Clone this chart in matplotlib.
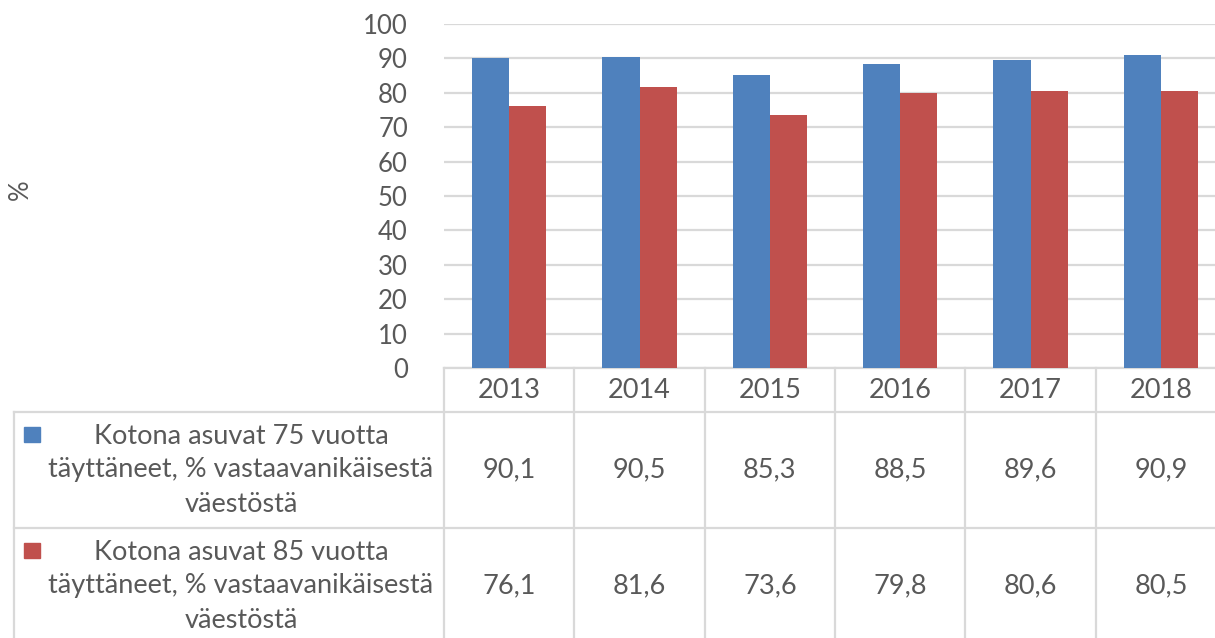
import matplotlib
matplotlib.use("Agg")
from matplotlib import pyplot as plt

years = ['2013', '2014', '2015', '2016', '2017', '2018']
home_75 = [90.1, 90.5, 85.3, 88.5, 89.6, 90.9]
home_85 = [76.1, 81.6, 73.6, 79.8, 80.6, 80.5]
series_names = [
    'Kotona asuvat 75 vuotta\ntäyttäneet, % vastaavanikäisestä\nväestöstä',
    'Kotona asuvat 85 vuotta\ntäyttäneet, % vastaavanikäisestä\nväestöstä',
]
colors = ['#4F81BD', '#C0504D']
yticks = list(range(0, 101, 10))

plt.rcParams['font.family'] = ['Lato', 'DejaVu Sans']
txt = '#595959'
grid = '#D9D9D9'
fs = 18.5
fs_tab = 19.5

W, H = 1215, 638
fig = plt.figure(figsize=(W / 100, H / 100), dpi=100)

# plot area in pixels
x0, x1 = 444, 1226
y_top, y_bot = 24, 368
ax = fig.add_axes([x0 / W, 1 - y_bot / H, (x1 - x0) / W, (y_bot - y_top) / H])

n = len(years)
bw = 0.284
xs = list(range(n))
ax.bar([x - bw / 2 for x in xs], home_75, bw, color=colors[0], zorder=3)
ax.bar([x + bw / 2 for x in xs], home_85, bw, color=colors[1], zorder=3)
ax.set_xlim(-0.5, n - 0.5)
ax.set_ylim(0, 100)
ax.set_yticks(yticks)
ax.set_yticklabels([str(t) for t in yticks], fontsize=fs, color=txt)
ax.tick_params(axis='y', length=0, pad=26)
ax.set_xticks([])
ax.yaxis.grid(True, color=grid, linewidth=1.6, zorder=0)
for s in ['top', 'right', 'left']:
    ax.spines[s].set_visible(False)
ax.spines['bottom'].set_color(grid)
ax.spines['bottom'].set_linewidth(1.6)

fig.text(20 / W, 1 - 190 / H, '%', rotation=90, fontsize=fs, color=txt,
         ha='center', va='center')

# data table drawn in pixel coordinates
tb = fig.add_axes([0, 0, 1, 1])
tb.set_xlim(0, W)
tb.set_ylim(H, 0)
tb.axis('off')

colw = (x1 - x0) / n
row_y = [368, 412, 528, 644]
left = 14
lk = dict(color=grid, linewidth=1.6)

for i in range(n + 1):
    xx = x0 + i * colw
    tb.plot([xx, xx], [row_y[0], H], **lk)
tb.plot([left, left], [row_y[1], H], **lk)
for yy in row_y[1:3]:
    tb.plot([left, x1], [yy, yy], **lk)

for i, yr in enumerate(years):
    tb.text(x0 + (i + 0.5) * colw, (row_y[0] + row_y[1]) / 2, yr,
            ha='center', va='center', fontsize=fs_tab, color=txt)

for r, (vals, name, c) in enumerate(zip([home_75, home_85], series_names, colors)):
    top, bot = row_y[r + 1], row_y[r + 2]
    yc = (top + bot) / 2 if r == 0 else top + 58
    tb.add_patch(plt.Rectangle((24, top + 15), 16, 15, color=c))
    tb.text(241, yc, name, ha='center', va='center', fontsize=fs_tab,
            color=txt, linespacing=1.45, multialignment='center')
    for i, v in enumerate(vals):
        tb.text(x0 + (i + 0.5) * colw, yc, f'{v:.1f}'.replace('.', ','),
                ha='center', va='center', fontsize=fs_tab, color=txt)

fig.savefig('out.png', dpi=100)
